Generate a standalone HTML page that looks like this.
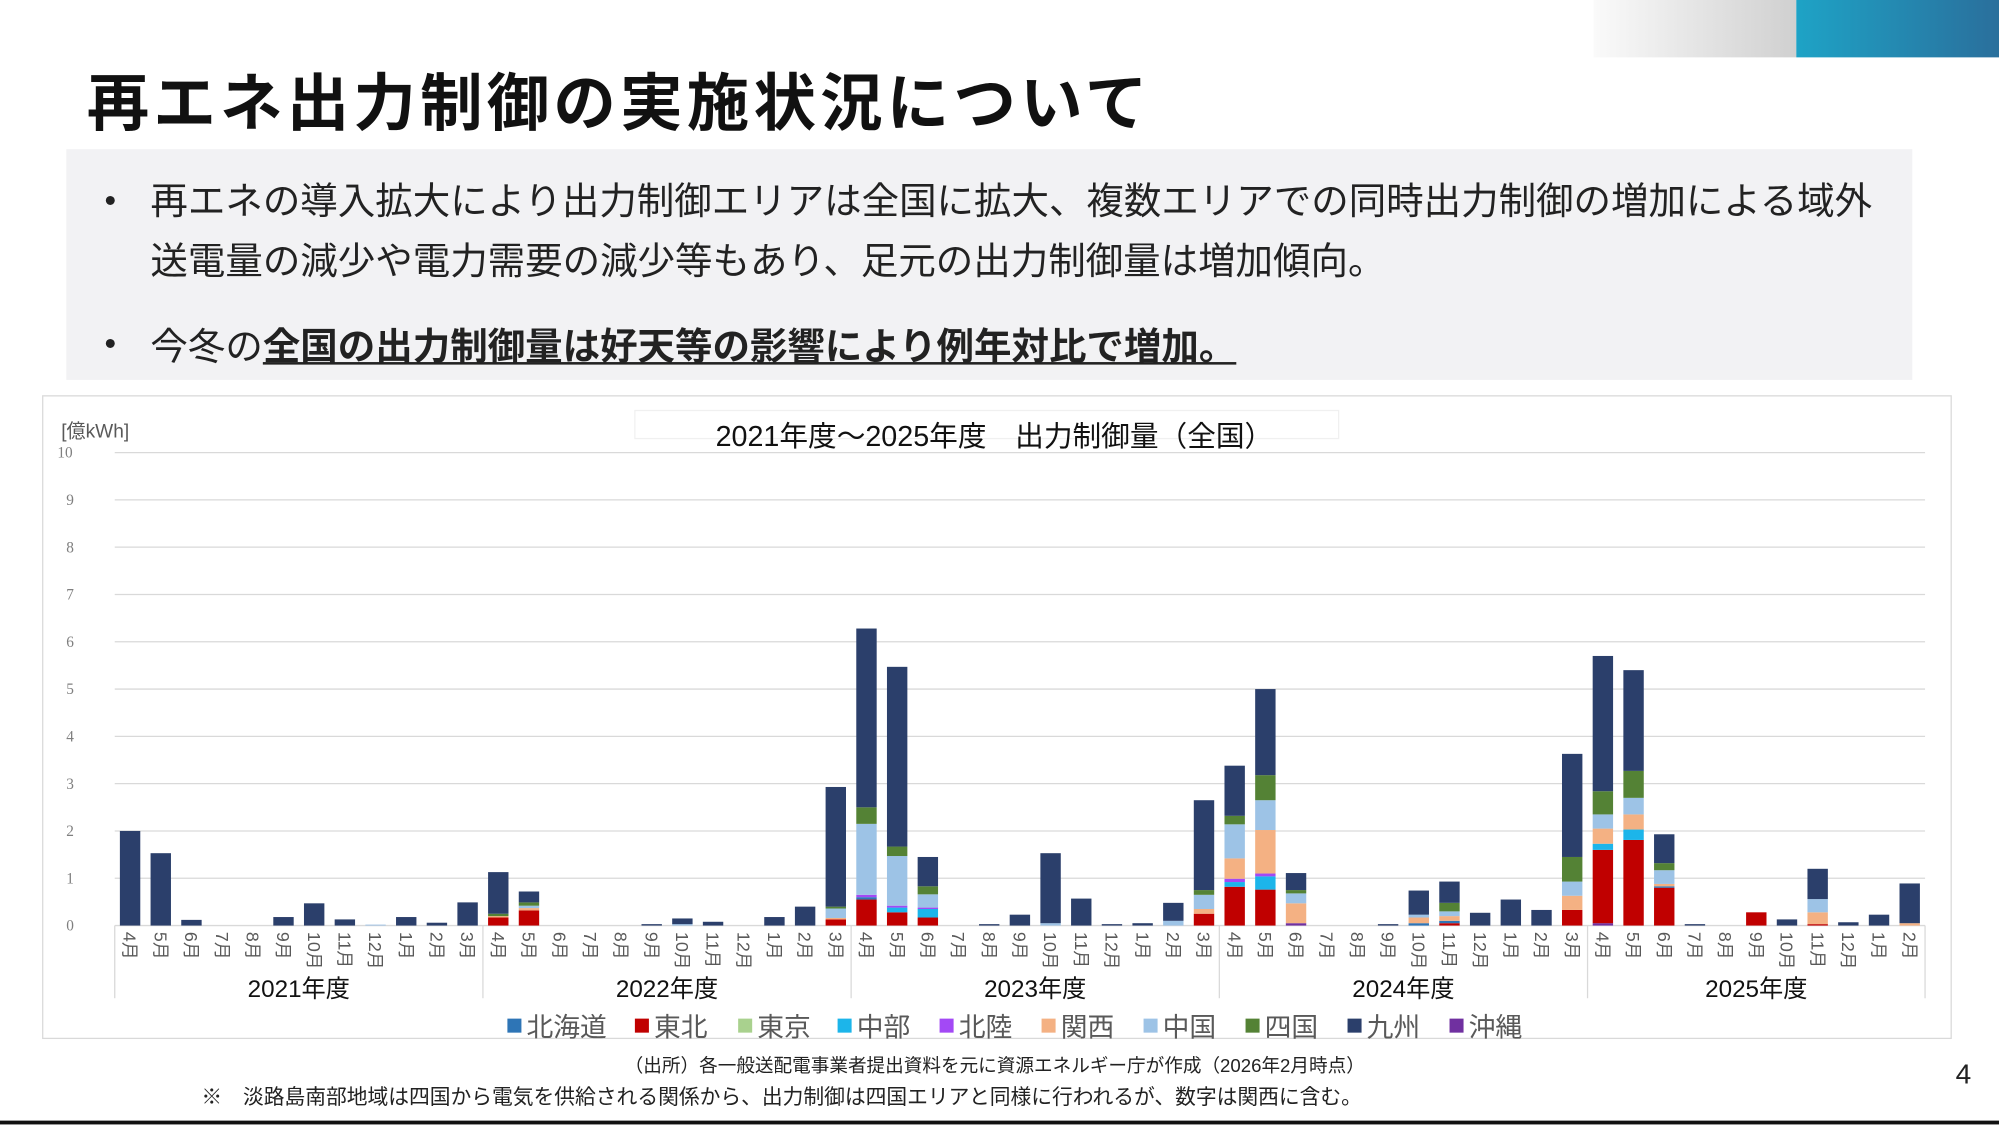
<!DOCTYPE html>
<html><head><meta charset="utf-8">
<style>
html,body{margin:0;padding:0;background:#fff;overflow:hidden}
#w{width:1999px;height:1125px;overflow:hidden;position:relative}
#s{position:absolute;left:0;top:0;width:1568px;height:882px;transform:scale(1.27487);transform-origin:0 0;font-family:"Liberation Sans","Noto Sans CJK JP",sans-serif;color:#222}
.t{position:absolute;white-space:nowrap}
</style></head><body><div id="w"><div id="s">
<div style="position:absolute;left:1250px;top:0;width:159px;height:45px;background:linear-gradient(90deg,#fafafa,#d0d0d0)"></div>
<div style="position:absolute;left:1409px;top:0;width:159px;height:45px;background:linear-gradient(90deg,#1ea3c6,#2a6f9c)"></div>
<div class="t" style="left:68px;top:42px;font-size:49px;font-weight:bold;color:#111;letter-spacing:3.3px">再エネ出力制御の実施状況について</div>
<div style="position:absolute;left:52px;top:117px;width:1448px;height:181px;background:#f2f2f4"></div>
<div class="t" style="left:82px;top:142px;font-size:26px">•</div>
<div class="t" style="left:118px;top:135px;font-size:29.4px;line-height:47px">再エネの導入拡大により出力制御エリアは全国に拡大、複数エリアでの同時出力制御の増加による域外<br>送電量の減少や電力需要の減少等もあり、足元の出力制御量は増加傾向。</div>
<div class="t" style="left:82px;top:254px;font-size:26px">•</div>
<div class="t" style="left:118px;top:249px;font-size:29.4px">今冬の<b style="text-decoration:underline">全国の出力制御量は好天等の影響により例年対比で増加。</b></div>
<div style="position:absolute;left:33px;top:310px;width:1496px;height:503px;border:1px solid #d9d9d9"></div>
<svg id="c" style="position:absolute;left:0;top:0" width="1568" height="882"></svg>
<div class="t" style="left:490px;top:825px;font-size:14.6px">（出所）各一般送配電事業者提出資料を元に資源エネルギー庁が作成（2026年2月時点）</div>
<div class="t" style="left:158px;top:847px;font-size:16.3px">※　淡路島南部地域は四国から電気を供給される関係から、出力制御は四国エリアと同様に行われるが、数字は関西に含む。</div>
<div class="t" style="left:1534px;top:830px;font-size:22px">4</div>
<div style="position:absolute;left:0;top:879px;width:1568px;height:3px;background:#111"></div>
</div></div>
<script>
var C={hk:"#2e75b6",th:"#c00000",tk:"#a9d18e",cb:"#1cb5ea",hr:"#a349f5",ks:"#f4b183",cg:"#9dc3e6",sk:"#548235",ky:"#2b3f6b",ok:"#7030a0"};
function k(t){return [["ky",t]];}
var D=[k(2.0),k(1.53),k(0.12),[],[],k(0.18),k(0.47),k(0.13),[["cg",0.02]],k(0.18),k(0.06),k(0.49),
[["th",0.17],["ks",0.03],["sk",0.05],["ky",0.88]],[["th",0.32],["ks",0.05],["cg",0.05],["sk",0.07],["ky",0.23]],[],[],[],k(0.03),[["cg",0.03],["ky",0.12]],k(0.08),[],k(0.18),k(0.4),[["th",0.13],["ks",0.03],["cg",0.2],["sk",0.04],["ky",2.53]],
[["th",0.55],["hk",0.05],["hr",0.05],["cg",1.5],["sk",0.35],["ky",3.78]],[["th",0.28],["cb",0.1],["hr",0.04],["cg",1.05],["sk",0.2],["ky",3.8]],[["th",0.17],["cb",0.18],["hr",0.03],["cg",0.28],["sk",0.17],["ky",0.62]],[],k(0.03),k(0.23),[["cg",0.05],["ky",1.48]],k(0.57),k(0.03),k(0.05),[["cg",0.1],["ky",0.38]],[["th",0.25],["ks",0.1],["cg",0.3],["sk",0.1],["ky",1.9]],
[["th",0.82],["cb",0.1],["hr",0.07],["ks",0.43],["cg",0.72],["sk",0.18],["ky",1.06]],[["th",0.76],["cb",0.28],["hr",0.06],["ks",0.92],["cg",0.63],["sk",0.53],["ky",1.82]],[["ok",0.05],["ks",0.42],["cg",0.21],["sk",0.07],["ky",0.36]],[],[],k(0.03),[["hk",0.05],["ks",0.12],["cg",0.06],["ky",0.51]],[["th",0.05],["hk",0.05],["ks",0.1],["cg",0.1],["sk",0.18],["ky",0.45]],k(0.27),k(0.55),k(0.33),[["th",0.33],["ks",0.3],["cg",0.3],["sk",0.52],["ky",2.18]],
[["ok",0.05],["th",1.55],["cb",0.13],["ks",0.32],["cg",0.3],["sk",0.49],["ky",2.86]],[["th",1.81],["cb",0.22],["ks",0.32],["cg",0.35],["sk",0.57],["ky",2.13]],[["th",0.8],["hk",0.03],["ks",0.05],["cg",0.29],["sk",0.15],["ky",0.61]],k(0.03),[],[["th",0.28]],k(0.13),[["th",0.03],["ks",0.25],["cg",0.28],["ky",0.64]],k(0.07),k(0.23),[["ks",0.05],["ky",0.84]]];
var s='',X0=90,X1=1510,Y0=726,U=37.1,N=59,cw=(X1-X0)/N;
for(var i=0;i<=10;i++){var y=Y0-i*U;s+='<line x1="'+X0+'" x2="'+X1+'" y1="'+y+'" y2="'+y+'" stroke="#d9d9d9" stroke-width="1"/>';
s+='<text x="'+(i==10?45:52)+'" y="'+(y+4)+'" font-size="12" fill="#7f7f7f" font-family="Liberation Serif,serif">'+i+'</text>';}
s+='<text x="48" y="343" font-size="15" fill="#595959">[億kWh]</text>';
s+='<rect x="498" y="322" width="552" height="22" fill="none" stroke="#f0f0f0"/>';
s+='<text x="780" y="350" font-size="22.5" text-anchor="middle" fill="#111">2021年度～2025年度　出力制御量（全国）</text>';
var M=["4","5","6","7","8","9","10","11","12","1","2","3"];
for(var j=0;j<N;j++){var cx=X0+cw*(j+0.5),y=Y0;D[j].forEach(function(g){var h=g[1]*U;s+='<rect x="'+(cx-8)+'" y="'+(y-h)+'" width="16" height="'+h+'" fill="'+C[g[0]]+'"/>';y-=h;});
s+='<text transform="translate('+(cx-5)+',731) rotate(90)" font-size="14" fill="#595959">'+M[j%12]+'月</text>';}
var sep=[0,12,24,36,48,59];sep.forEach(function(v){var x=X0+cw*v;s+='<line x1="'+x+'" x2="'+x+'" y1="726" y2="783" stroke="#d9d9d9"/>';});
["2021","2022","2023","2024","2025"].forEach(function(t,q){var a=X0+cw*sep[q],b=X0+cw*sep[q+1];s+='<text x="'+((a+b)/2)+'" y="782" font-size="19" text-anchor="middle" fill="#111">'+t+'年度</text>';});
var L=[["hk","北海道"],["th","東北"],["tk","東京"],["cb","中部"],["hr","北陸"],["ks","関西"],["cg","中国"],["sk","四国"],["ky","九州"],["ok","沖縄"]];
var lx=[398,498,579,657,737,817,897,977,1057,1137];
L.forEach(function(l,q){s+='<rect x="'+lx[q]+'" y="799" width="11" height="11" fill="'+C[l[0]]+'"/><text x="'+(lx[q]+15)+'" y="813" font-size="21" fill="#595959">'+l[1]+'</text>';});
document.getElementById('c').innerHTML=s;
</script>
</body></html>
